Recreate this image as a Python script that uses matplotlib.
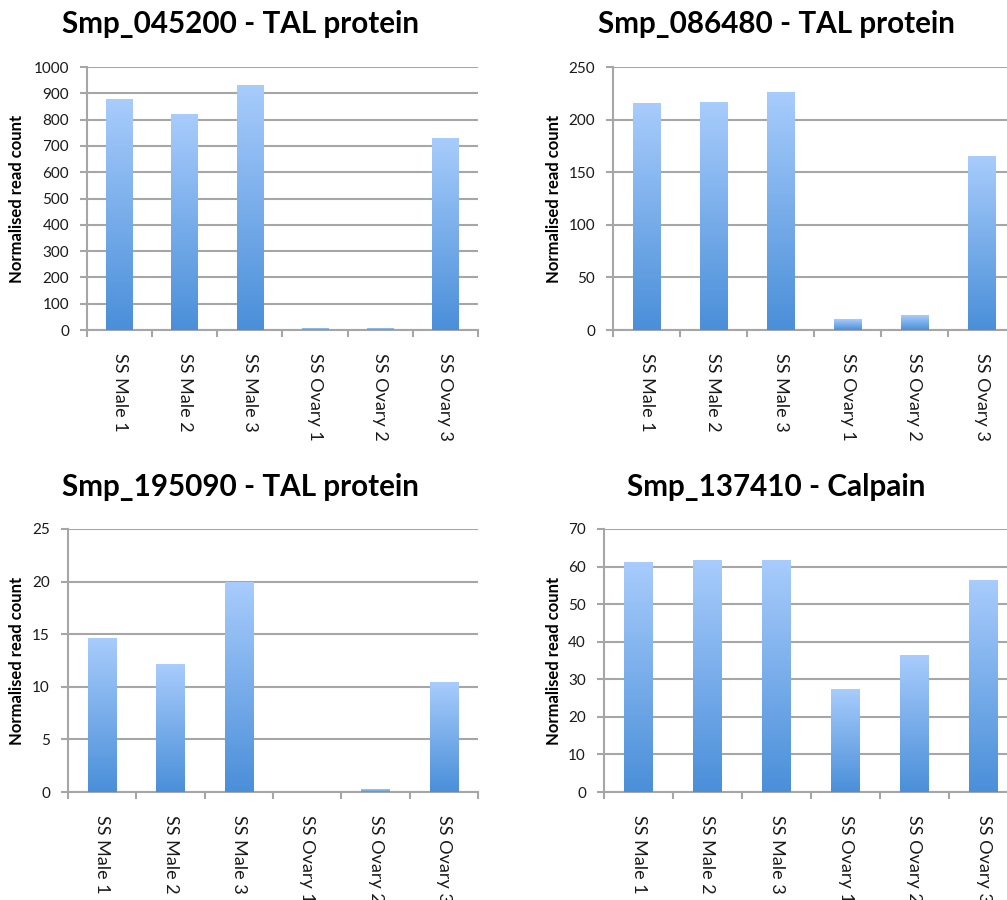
import matplotlib
matplotlib.use("Agg")
import matplotlib.pyplot as plt
import numpy as np
from matplotlib.colors import LinearSegmentedColormap

plt.rcParams['font.family'] = ['Lato', 'DejaVu Sans']

categories = ["SS Male 1", "SS Male 2", "SS Male 3", "SS Ovary 1", "SS Ovary 2", "SS Ovary 3"]

titles = ["Smp_045200 - TAL protein", "Smp_086480 - TAL protein",
          "Smp_195090 - TAL protein", "Smp_137410 - Calpain"]

vals_045200 = [877, 820, 930, 6, 6, 729]
vals_086480 = [215, 216.5, 226, 10, 14, 165]
vals_195090 = [14.56, 12.09, 19.9, 0, 0.22, 10.38]
vals_137410 = [61.2, 61.7, 61.5, 27.2, 36.2, 56.2]

ymax = [1000, 250, 25, 70]
ystep = [100, 50, 5, 10]

W, H = 1007, 900
fig = plt.figure(figsize=(W / 100, H / 100), dpi=100)

# axes boxes in pixels: left, top, right, bottom
boxes = [(87, 67, 478, 330), (613, 67, 1015, 330),
         (68, 529, 478, 792), (604, 529, 1018, 792)]
title_pos = [(240, 33), (776, 33), (240, 496), (776, 496)]
ylabel_x = [17.5, 554, 17.5, 554]

cmap = LinearSegmentedColormap.from_list("g", ["#4A8FD9", "#A8CCFC"])
grad = np.linspace(0, 1, 256).reshape(-1, 1)
gray = "#A6A6A6"

series = [vals_045200, vals_086480, vals_195090, vals_137410]

for i, vals in enumerate(series):
    l, t, r, b = boxes[i]
    ax = fig.add_axes([l / W, (H - b) / H, (r - l) / W, (b - t) / H])
    x = np.arange(len(categories))
    bars = ax.bar(x, vals, width=0.41, color="none", zorder=2)
    for bar in bars:
        bx, bw, bh = bar.get_x(), bar.get_width(), bar.get_height()
        if bh > 0:
            ax.imshow(grad, extent=[bx, bx + bw, 0, bh], origin="lower",
                      aspect="auto", cmap=cmap, zorder=3, interpolation="bicubic")
    ax.set_xlim(-0.5, len(categories) - 0.5)
    ax.set_ylim(0, ymax[i])
    ax.set_yticks(np.arange(0, ymax[i] + ystep[i] / 2, ystep[i]))
    ax.yaxis.grid(True, color=gray, linewidth=1.5, zorder=0)
    ax.set_axisbelow(True)
    for s in ["top", "right"]:
        ax.spines[s].set_visible(False)
    for s in ["left", "bottom"]:
        ax.spines[s].set_color(gray)
        ax.spines[s].set_linewidth(1.5)
    ax.set_xticks(x)
    ax.set_xticklabels(categories, rotation=270, fontsize=13, color="#1a1a1a",
                       va="top", ha="center")
    ax.set_xticks(np.arange(-0.5, len(categories)), minor=True)
    ax.tick_params(axis="x", which="major", length=0, pad=16.5)
    ax.tick_params(axis="x", which="minor", length=5, width=1.5, color=gray)
    ax.tick_params(axis="y", length=5, width=1.5, color=gray, pad=8,
                   labelsize=11, labelcolor="#1a1a1a")
    tx, ty = title_pos[i]
    fig.text(tx / W, (H - ty) / H, titles[i], fontsize=21.3, fontweight="bold",
             ha="center", va="baseline", color="black")
    fig.text(ylabel_x[i] / W, (H - (t + b) / 2) / H, "Normalised read count",
             rotation=90, fontsize=12, fontweight="bold", ha="center", va="center",
             color="black")

fig.savefig("out.png", dpi=100)
